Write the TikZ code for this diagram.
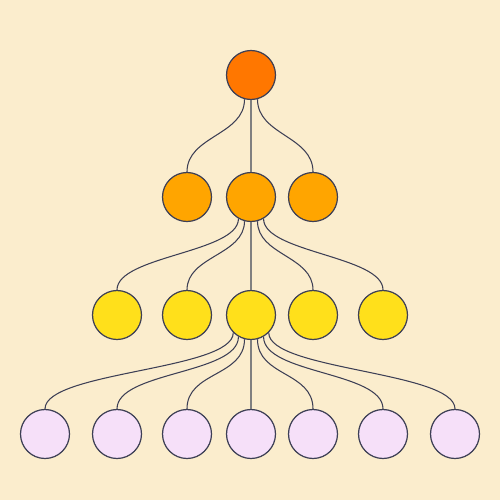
\documentclass[tikz,border=0pt]{standalone}
\usepackage{tikz}
\usetikzlibrary{positioning}
\definecolor{bgcream}{HTML}{FBEDCD}
\definecolor{rootorange}{HTML}{FF7700}
\definecolor{midorange}{HTML}{FFA500}
\definecolor{lowyellow}{HTML}{FFE01B}
\definecolor{leaflilac}{HTML}{F6E0F9}
\definecolor{edgeink}{HTML}{3D3F55}
\tikzstyle{ball}=[circle,draw=edgeink,line width=0.7pt,minimum size=0.98cm,inner sep=0pt]
\tikzstyle{link}=[draw=edgeink,line width=0.6pt]
\tikzstyle{spine}=[draw=gray,line width=1.1pt]

\begin{document}
\begin{tikzpicture}[x=0.02cm,y=-0.02cm]
	\fill[bgcream] (0,0) rectangle (500,500);
	% nodes, row by row
	\node[ball,fill=rootorange] (r) at (251,75) {};
	\node[ball,fill=midorange] (m1) at (187,197) {};
	\node[ball,fill=midorange] (m2) at (251,197) {};
	\node[ball,fill=midorange] (m3) at (313,197) {};
	\foreach \x/\n in {117/1,187/2,251/3,313/4,383/5}
		\node[ball,fill=lowyellow] (y\n) at (\x,315) {};
	\foreach \x/\n in {45/1,117/2,187/3,251/4,313/5,383/6,455/7}
		\node[ball,fill=leaflilac] (p\n) at (\x,434) {};
	% straight spine
	\draw[spine] (r) -- (m2);
	\draw[spine] (m2) -- (y3);
	\draw[spine] (y3) -- (p4);
	% curved links
	\draw[link] (r.-105) to[out=-90,in=90,distance=0.72cm] (m1.north);
	\draw[link] (r.-75) to[out=-90,in=90,distance=0.72cm] (m3.north);
	\foreach \n/\a in {1/-120,2/-105,4/-75,5/-60}
		\draw[link] (m2.\a) to[out=-90,in=90,distance=0.68cm] (y\n.north);
	\foreach \n/\a in {1/-135,2/-120,3/-105,5/-75,6/-60,7/-45}
		\draw[link] (y3.\a) to[out=-90,in=90,distance=0.75cm] (p\n.north);
\end{tikzpicture}
\end{document}
